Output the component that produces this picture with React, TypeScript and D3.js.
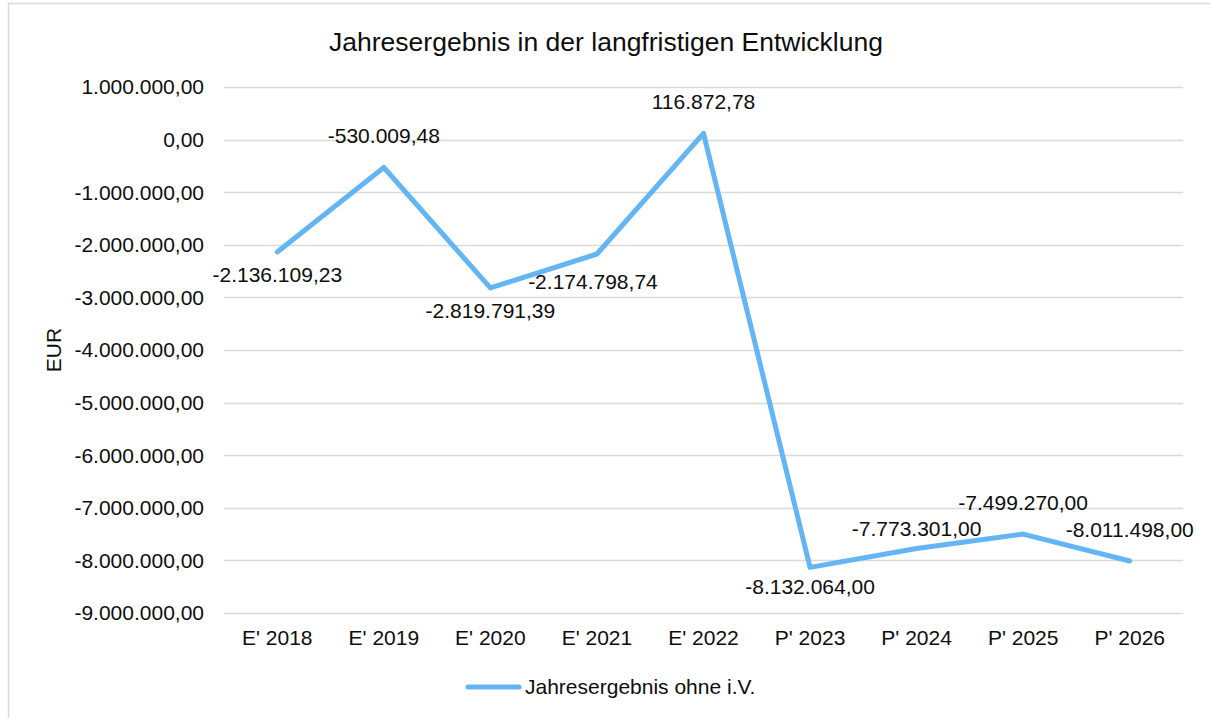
import { useEffect, useRef } from 'react'
import * as d3 from 'd3'

const categories = ["E' 2018", "E' 2019", "E' 2020", "E' 2021", "E' 2022", "P' 2023", "P' 2024", "P' 2025", "P' 2026"]
const values = [-2136109.23, -530009.48, -2819791.39, -2174798.74, 116872.78, -8132064.0, -7773301.0, -7499270.0, -8011498.0]
const labelSide = ['below', 'above', 'below', 'below', 'above', 'below', 'above', 'above', 'above']
const yTicks = [1000000, 0, -1000000, -2000000, -3000000, -4000000, -5000000, -6000000, -7000000, -8000000, -9000000]

const seriesName = 'Jahresergebnis ohne i.V.'
const title = 'Jahresergebnis in der langfristigen Entwicklung'

const W = 1210
const H = 718
const FONT = '"Liberation Sans", Arial, sans-serif'
const LINE_COLOR = '#63b5f5'
const GRID_COLOR = '#d9d9d9'
const TEXT_COLOR = '#0d0d0d'

// manual label nudges (Excel moved a few labels to avoid collisions)
const labelNudge: Record<string, [number, number]> = {
  "E' 2021": [-4, 5],
  "P' 2023": [0, -3],
  "P' 2024": [0, 12],
}

const de = d3.formatLocale({ decimal: ',', thousands: '.', grouping: [3], currency: ['', ' €'], minus: '-' })
const fmt = de.format(',.2f')

export default function App() {
  const svgRef = useRef<SVGSVGElement>(null)

  useEffect(() => {
    if (!svgRef.current) return
    const svg = d3.select(svgRef.current)
    svg.selectAll('*').remove()

    const plot = { left: 224, right: 1183, top: 87, bottom: 613 }

    const x = d3.scalePoint<string>()
      .domain(categories)
      .range([plot.left, plot.right])
      .padding(0.5)

    const y = d3.scaleLinear()
      .domain([-9000000, 1000000])
      .range([plot.bottom, plot.top])

    // chart frame
    svg.append('rect')
      .attr('x', 8.5)
      .attr('y', 3.5)
      .attr('width', W + 10)
      .attr('height', H + 10)
      .attr('fill', '#fff')
      .attr('stroke', GRID_COLOR)
      .attr('stroke-width', 1.5)

    // title
    svg.append('text')
      .attr('x', 606)
      .attr('y', 51)
      .attr('text-anchor', 'middle')
      .attr('font-size', 26.5)
      .attr('fill', TEXT_COLOR)
      .text(title)

    // gridlines + y labels
    const ticks = svg.append('g')
    ticks.selectAll('line')
      .data(yTicks)
      .enter()
      .append('line')
      .attr('x1', plot.left)
      .attr('x2', plot.right)
      .attr('y1', d => Math.round(y(d)) + 0.5)
      .attr('y2', d => Math.round(y(d)) + 0.5)
      .attr('stroke', GRID_COLOR)
      .attr('stroke-width', 1.3)

    ticks.selectAll('text')
      .data(yTicks)
      .enter()
      .append('text')
      .attr('x', 204)
      .attr('y', d => y(d))
      .attr('dy', '0.35em')
      .attr('text-anchor', 'end')
      .attr('font-size', 21)
      .attr('fill', TEXT_COLOR)
      .text(d => fmt(d))

    // axis title
    svg.append('text')
      .attr('transform', 'translate(61,350) rotate(-90)')
      .attr('text-anchor', 'middle')
      .attr('font-size', 21)
      .attr('fill', TEXT_COLOR)
      .text('EUR')

    // x labels
    svg.append('g')
      .selectAll('text')
      .data(categories)
      .enter()
      .append('text')
      .attr('x', d => x(d)!)
      .attr('y', 645)
      .attr('text-anchor', 'middle')
      .attr('font-size', 21)
      .attr('fill', TEXT_COLOR)
      .text(d => d)

    // series line
    const line = d3.line<number>()
      .x((_, i) => x(categories[i])!)
      .y(d => y(d))

    svg.append('path')
      .datum(values)
      .attr('d', line)
      .attr('fill', 'none')
      .attr('stroke', LINE_COLOR)
      .attr('stroke-width', 5)
      .attr('stroke-linejoin', 'round')
      .attr('stroke-linecap', 'round')

    // data labels
    svg.append('g')
      .selectAll('text')
      .data(values)
      .enter()
      .append('text')
      .attr('x', (_, i) => x(categories[i])! + (labelNudge[categories[i]]?.[0] ?? 0))
      .attr('y', (d, i) => y(d) + (labelSide[i] === 'above' ? -24 : 30) + (labelNudge[categories[i]]?.[1] ?? 0))
      .attr('text-anchor', 'middle')
      .attr('font-size', 21)
      .attr('fill', TEXT_COLOR)
      .text(d => fmt(d))

    // legend
    const legend = svg.append('g')
    legend.append('line')
      .attr('x1', 468)
      .attr('x2', 519)
      .attr('y1', 687)
      .attr('y2', 687)
      .attr('stroke', LINE_COLOR)
      .attr('stroke-width', 5)
      .attr('stroke-linecap', 'round')
    legend.append('text')
      .attr('x', 525)
      .attr('y', 694)
      .attr('font-size', 21)
      .attr('fill', TEXT_COLOR)
      .text(seriesName)
  }, [])

  return (
    <svg
      ref={svgRef}
      width={W}
      height={H}
      style={{ position: 'absolute', left: 0, top: 0, display: 'block', fontFamily: FONT }}
    />
  )
}
